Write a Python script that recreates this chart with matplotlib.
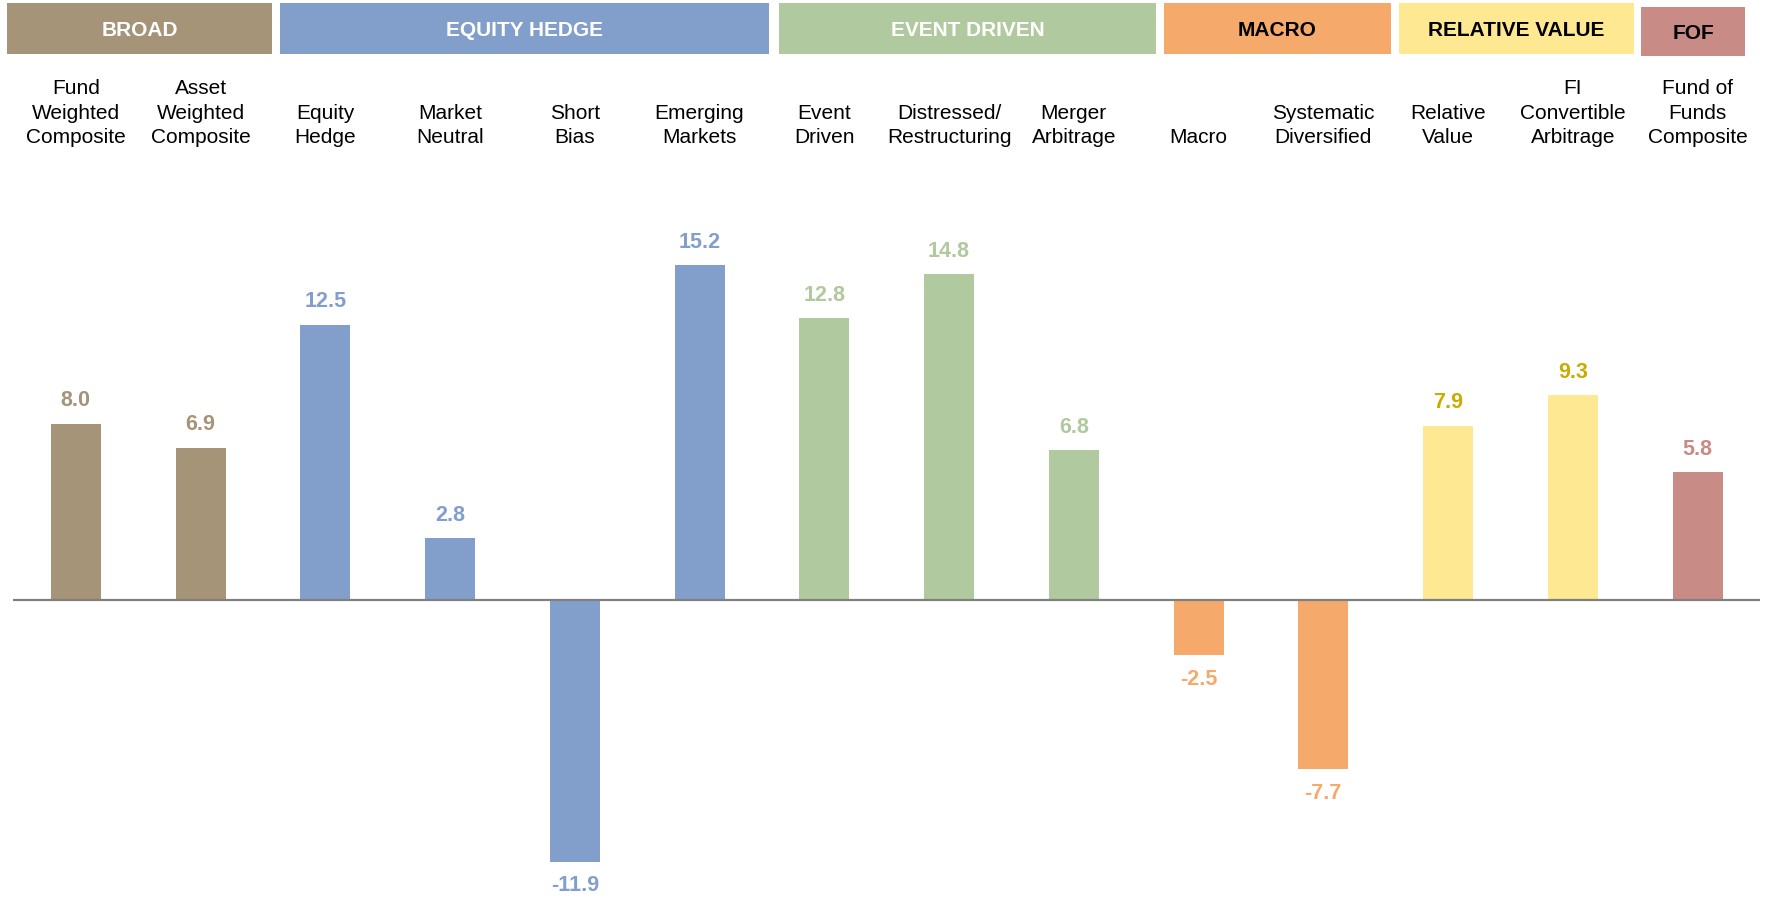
import matplotlib.pyplot as plt
from matplotlib import font_manager
from matplotlib.transforms import blended_transform_factory
from matplotlib.patches import Rectangle

categories = [
    "Fund\nWeighted\nComposite", "Asset\nWeighted\nComposite",
    "Equity\nHedge", "Market\nNeutral", "Short\nBias", "Emerging\nMarkets",
    "Event\nDriven", "Distressed/\nRestructuring", "Merger\nArbitrage",
    "Macro", "Systematic\nDiversified",
    "Relative\nValue", "FI\nConvertible\nArbitrage",
    "Fund of\nFunds\nComposite",
]
values = [8.0, 6.9, 12.5, 2.8, -11.9, 15.2, 12.8, 14.8, 6.8, -2.5, -7.7, 7.9, 9.3, 5.8]

groups = ["BROAD", "EQUITY HEDGE", "EVENT DRIVEN", "MACRO", "RELATIVE VALUE", "FOF"]
group_sizes = [2, 4, 3, 2, 2, 1]

bar_colors = ["#A69479", "#829FCB", "#B1C99E", "#F5A96A", "#FEE992", "#C88B85"]
label_colors = ["#A69479", "#829FCB", "#B1C99E", "#F5A96A", "#CCAA00", "#C88B85"]
header_text = ["white", "white", "white", "black", "black", "black"]

# header box edges, in bar-index units
header_edges = [(-0.55, 1.57), (1.64, 5.56), (5.64, 8.66), (8.72, 10.54), (10.61, 12.49), (12.55, 13.38)]

available = {f.name for f in font_manager.fontManager.ttflist}
narrow = "Liberation Sans Narrow" if "Liberation Sans Narrow" in available else "Liberation Sans"
plt.rcParams['font.family'] = [narrow, 'DejaVu Sans']

fig = plt.figure(figsize=(17.67, 9), dpi=100)
ax = fig.add_axes([0.0076, 0, 0.9884, 0.778])

x = list(range(len(values)))
colors, lcolors = [], []
for g, n in enumerate(group_sizes):
    colors += [bar_colors[g]] * n
    lcolors += [label_colors[g]] * n

ax.bar(x, values, width=0.4, color=colors, zorder=2)
ax.axhline(0, color="#808080", lw=1.6, zorder=3)

for xi, v, c in zip(x, values, lcolors):
    off = 1.05 if v >= 0 else -1.1
    ax.text(xi, v + off, f"{v:.1f}", ha="center", va="center",
            fontsize=15.5, fontweight="bold", color=c)

ax.set_xlim(-0.5, 13.5)
ax.set_ylim(-13.64, 18.18)
ax.axis("off")

# group header boxes across the top
trans = blended_transform_factory(ax.transData, fig.transFigure)
for g, name in enumerate(groups):
    x0, x1 = header_edges[g]
    top, bot = (0.9967, 0.94) if name != "FOF" else (0.992, 0.938)
    ax.add_patch(Rectangle((x0, bot), x1 - x0, top - bot, transform=trans,
                           facecolor=bar_colors[g], edgecolor="none", clip_on=False))
    ax.text((x0 + x1) / 2, (top + bot) / 2 - 0.002, name, transform=trans,
            ha="center", va="center", fontsize=15, fontweight="bold",
            color=header_text[g])

for xi, name in zip(x, categories):
    ax.text(xi, 1 - 147 / 900, name, transform=trans, ha="center", va="bottom",
            fontsize=15, linespacing=1.36, color="black")

plt.savefig("out.png", dpi=100)
